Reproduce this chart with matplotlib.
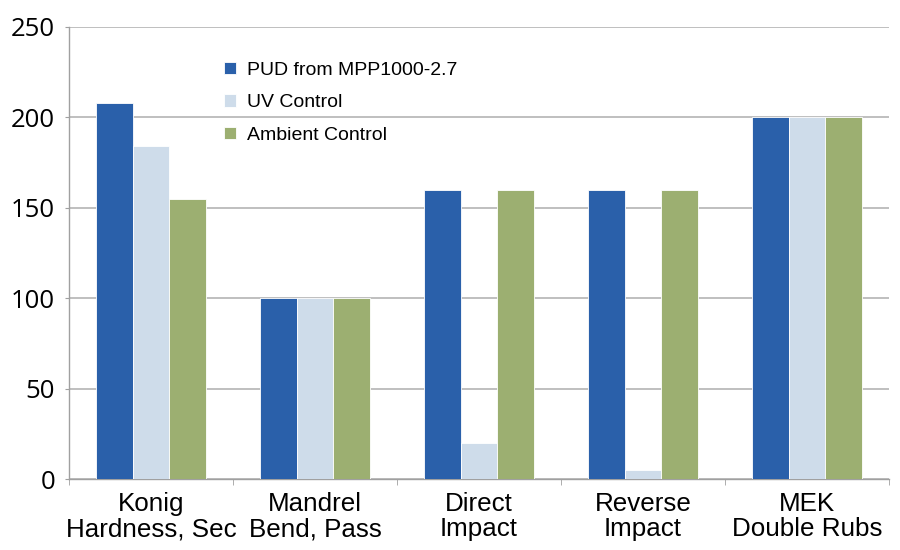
import matplotlib
matplotlib.use("Agg")
import matplotlib.pyplot as plt
import numpy as np

categories = ["Konig\nHardness, Sec", "Mandrel\nBend, Pass", "Direct\nImpact", "Reverse\nImpact", "MEK\nDouble Rubs"]
series_names = ["PUD from MPP1000-2.7", "UV Control", "Ambient Control"]
pud = [208, 100, 160, 160, 200]
uv = [184, 100, 20, 5, 200]
ambient = [155, 100, 160, 160, 200]
yticks = [0, 50, 100, 150, 200, 250]

colors = ["#2A60AA", "#CEDCEA", "#9CAF71"]

fig = plt.figure(figsize=(9, 5.5), dpi=100)
ax = fig.add_axes([0.0767, 0.129, 0.911, 0.822])

x = np.arange(len(categories))
w = 0.222
for i, (vals, name, c) in enumerate(zip([pud, uv, ambient], series_names, colors)):
    ax.bar(x + (i - 1) * w, vals, width=w, color=c, label=name,
           edgecolor="white", linewidth=0.6, zorder=3)

ax.set_xlim(-0.5, len(categories) - 0.5)
ax.set_ylim(0, 250)
ax.set_yticks(yticks)
ax.set_yticklabels([str(t) for t in yticks], fontsize=18.5, family=["Open Sans", "DejaVu Sans"])
ax.yaxis.grid(True, color="#b4b4b4", linewidth=1.2, zorder=0)
ax.set_axisbelow(True)

ax.set_xticks(x)
ax.set_xticklabels(categories, fontsize=18.7, family=["Liberation Sans", "DejaVu Sans"], linespacing=1.1)
ax.set_xticks(np.arange(-0.5, len(categories) + 0.5, 1), minor=True)
ax.tick_params(axis="x", which="major", length=0, pad=9)
ax.tick_params(axis="x", which="minor", length=4, color="#a0a0a0", direction="out")
ax.tick_params(axis="y", length=3, color="#a0a0a0", pad=7)

for s in ["top", "right"]:
    ax.spines[s].set_visible(False)
for s in ["left", "bottom"]:
    ax.spines[s].set_color("#a0a0a0")
    ax.spines[s].set_linewidth(1.0)

leg = ax.legend(loc="upper left", bbox_to_anchor=(0.168, 0.962), frameon=False,
                prop={"family": ["Liberation Sans", "DejaVu Sans"], "size": 14},
                handlelength=0.62, handleheight=0.62, handletextpad=0.55, labelspacing=0.79)

fig.savefig("out.png", dpi=100)
